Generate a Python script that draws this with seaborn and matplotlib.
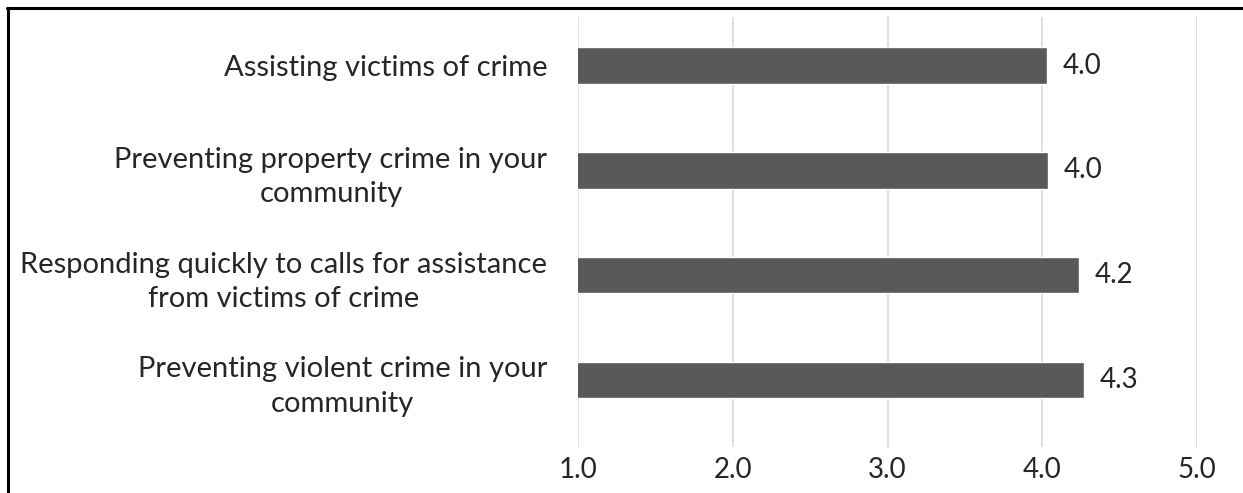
import seaborn as sns
import matplotlib.pyplot as plt
from matplotlib.lines import Line2D

# Dados
categorias = [
    "Assisting victims of crime",
    "Preventing property crime in your\ncommunity",
    "Responding quickly to calls for assistance\nfrom victims of crime",
    "Preventing violent crime in your\ncommunity",
]
valores = [4.03, 4.04, 4.24, 4.27]
rotulos_x = ["1.0", "2.0", "3.0", "4.0", "5.0"]
ticks_x = [1, 2, 3, 4, 5]

sns.set_style("white")
plt.rcParams["font.family"] = ["Lato", "DejaVu Sans"]

fig = plt.figure(figsize=(12.43, 4.93), dpi=100)
ax = fig.add_axes([578 / 1243, 1 - 447 / 493, (1197 - 578) / 1243, (447 - 17) / 493])

sns.barplot(x=valores, y=categorias, color="#595959", width=0.35,
            saturation=1, orient="h", ax=ax, zorder=3)

ax.set_xlim(1, 5)
ax.set_ylim(3.64, -0.463)
ax.set_xticks(ticks_x)
ax.set_xticklabels(rotulos_x, fontsize=20, color="#262626")
ax.tick_params(axis="x", length=0, pad=7)
ax.tick_params(axis="y", length=0, pad=22)
for t in ax.get_yticklabels():
    t.set_fontsize(21)
    t.set_color("#262626")
    t.set_multialignment("center")
    t.set_linespacing(1.4)

ax.xaxis.grid(True, color="#d9d9d9", linewidth=1.2, zorder=0)
ax.yaxis.grid(False)
for s in ax.spines.values():
    s.set_visible(False)
ax.set_xlabel("")
ax.set_ylabel("")

# Rótulos de valor
for i, v in enumerate(valores):
    ax.text(v + 0.1, i, f"{v:.1f}", va="center", ha="left",
            fontsize=20, color="#262626")

# Moldura (topo e esquerda)
fig.add_artist(Line2D([7 / 1243, 1], [1 - 8 / 493, 1 - 8 / 493],
                      color="black", linewidth=2.2))
fig.add_artist(Line2D([8 / 1243, 8 / 1243], [0, 1 - 8 / 493],
                      color="black", linewidth=2.2))

fig.savefig("out.png", dpi=100)
